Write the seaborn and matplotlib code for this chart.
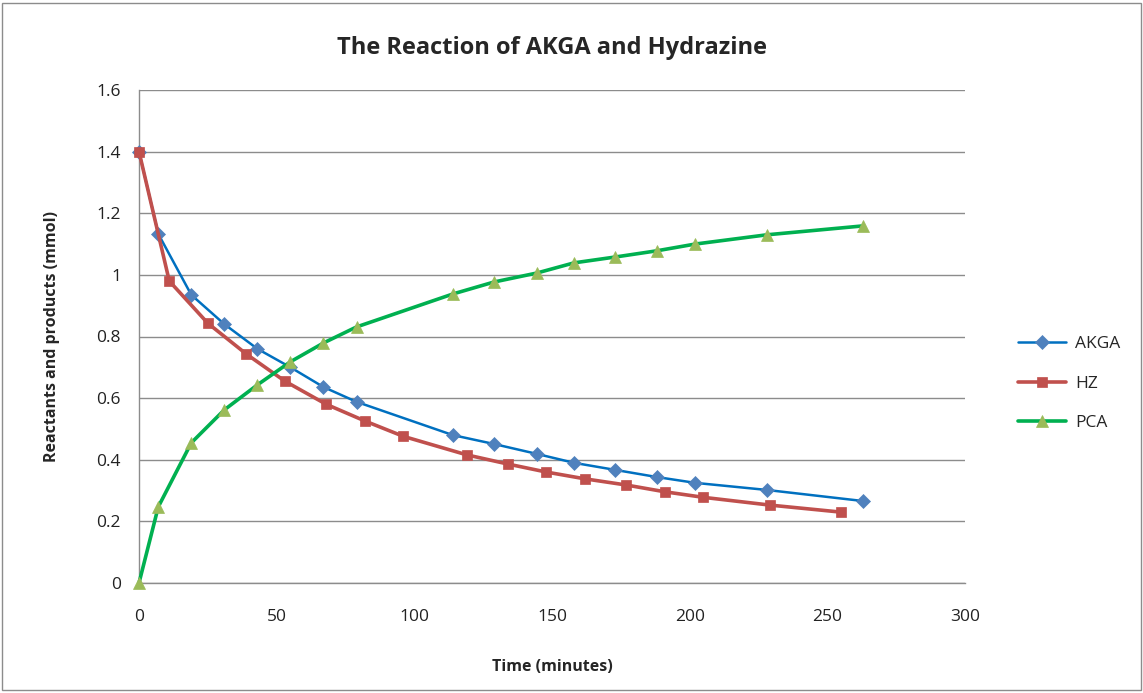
import matplotlib
matplotlib.use("Agg")
import matplotlib.pyplot as plt
import seaborn as sns
import pandas as pd
from matplotlib.patches import Rectangle

# Data
akga_time = [0, 7, 19, 31, 43, 55, 67, 79, 114, 129, 144.5, 158, 173, 188, 202, 228, 263]
akga_vals = [1.40, 1.133, 0.935, 0.84, 0.76, 0.70, 0.636, 0.588, 0.48, 0.451, 0.419, 0.39, 0.367, 0.344, 0.325, 0.302, 0.266]

hz_time = [0, 11, 25, 39, 53, 68, 82, 96, 119, 134, 148, 162, 177, 191, 205, 229, 255]
hz_vals = [1.40, 0.98, 0.843, 0.743, 0.655, 0.58, 0.526, 0.476, 0.416, 0.386, 0.36, 0.338, 0.318, 0.296, 0.278, 0.253, 0.23]

pca_time = [0, 7, 19, 31, 43, 55, 67, 79, 114, 129, 144.5, 158, 173, 188, 202, 228, 263]
pca_vals = [0.0, 0.247, 0.455, 0.562, 0.643, 0.718, 0.779, 0.831, 0.938, 0.977, 1.006, 1.039, 1.058, 1.078, 1.10, 1.13, 1.159]

series_names = ["AKGA", "HZ", "PCA"]
x_ticks = [0, 50, 100, 150, 200, 250, 300]
y_ticks = [0, 0.2, 0.4, 0.6, 0.8, 1.0, 1.2, 1.4, 1.6]
y_tick_labels = ["0", "0.2", "0.4", "0.6", "0.8", "1", "1.2", "1.4", "1.6"]

sns.set_theme(style="white")
plt.rcParams['font.family'] = ['Open Sans', 'DejaVu Sans']

fig = plt.figure(figsize=(11.43, 6.93), dpi=100)
ax = fig.add_axes([139/1143, 1 - 583/693, (965-139)/1143, (583-90)/693])

styles = {
    "AKGA": dict(line="#0070C0", mfc="#4F81BD", marker="D", ms=7, lw=1.8),
    "HZ": dict(line="#C0504D", mfc="#C0504D", marker="s", ms=7.5, lw=2.6),
    "PCA": dict(line="#00B050", mfc="#9BBB59", marker="^", ms=9, lw=2.6),
}
data = {
    "AKGA": (akga_time, akga_vals),
    "HZ": (hz_time, hz_vals),
    "PCA": (pca_time, pca_vals),
}
for name in series_names:
    t, v = data[name]
    st = styles[name]
    df = pd.DataFrame({"t": t, "v": v})
    sns.lineplot(data=df, x="t", y="v", ax=ax, color=st["line"], lw=st["lw"],
                 marker=st["marker"], markersize=st["ms"], markerfacecolor=st["mfc"],
                 markeredgecolor=st["mfc"], markeredgewidth=0.5, label=name,
                 estimator=None, sort=False, clip_on=False, zorder=3)

ax.set_xlim(0, 300)
ax.set_ylim(0, 1.6)
ax.set_xticks(x_ticks)
ax.set_yticks(y_ticks)
ax.set_yticklabels(y_tick_labels)
ax.yaxis.grid(True, color="#8c8c8c", lw=1.0)
ax.xaxis.grid(False)
for s in ["top", "right"]:
    ax.spines[s].set_visible(False)
for s in ["left", "bottom"]:
    ax.spines[s].set_color("#8c8c8c")
    ax.spines[s].set_linewidth(1.0)
ax.tick_params(axis="both", which="both", direction="out", length=5, width=1,
               color="#8c8c8c", labelsize=12.5, labelcolor="#222222", pad=8)
ax.tick_params(axis="x", pad=14)
ax.set_xlabel("Time (minutes)", fontsize=11.5, fontweight="bold", labelpad=24)
ax.set_ylabel("Reactants and products (mmol)", fontsize=11.5, fontweight="bold", labelpad=26)
ax.set_title("The Reaction of AKGA and Hydrazine", fontsize=17, fontweight="bold", pad=26)

leg = ax.legend(loc="center left", bbox_to_anchor=(1.045, 0.404), frameon=False,
                fontsize=12.5, handlelength=2.8, labelspacing=1.35, handletextpad=0.5)

fig.patches.append(Rectangle((0.002, 0.004), 0.996, 0.992, transform=fig.transFigure,
                             fill=False, edgecolor="#8c8c8c", lw=1.0))

fig.savefig("out.png", dpi=100)
